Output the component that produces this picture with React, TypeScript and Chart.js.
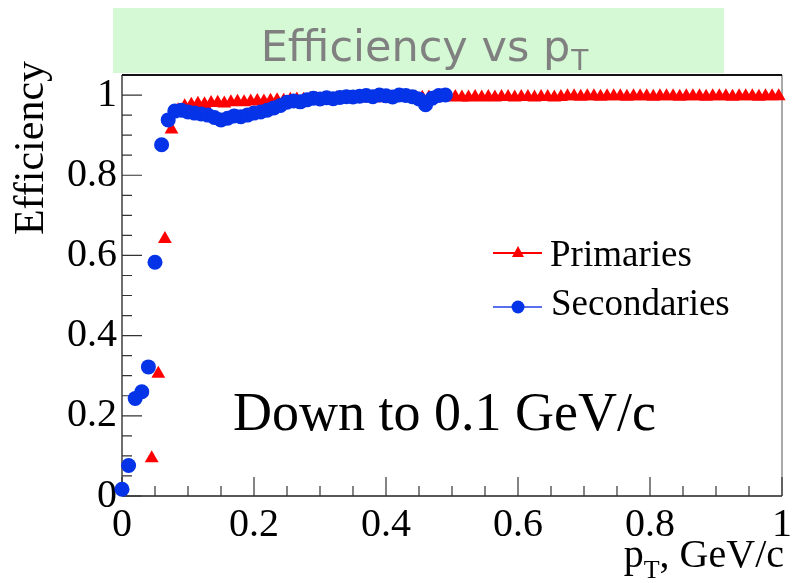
import React, { useEffect, useRef } from 'react';
import { Chart, registerables } from 'chart.js';

Chart.register(...registerables);

// ---------------- data ----------------
const primariesPt = [
  0.045, 0.055, 0.065, 0.075, 0.085, 0.095, 0.105, 0.115, 0.125, 0.135,
  0.145, 0.155, 0.165, 0.175, 0.185, 0.195, 0.205, 0.215, 0.225, 0.235,
  0.245, 0.255, 0.265, 0.275, 0.285, 0.295, 0.305, 0.315, 0.325, 0.335,
  0.345, 0.355, 0.365, 0.375, 0.385, 0.395, 0.405, 0.415, 0.425, 0.435,
  0.445, 0.455, 0.465, 0.475, 0.485, 0.495, 0.505, 0.515, 0.525, 0.535,
  0.545, 0.555, 0.565, 0.575, 0.585, 0.595, 0.605, 0.615, 0.625, 0.635,
  0.645, 0.655, 0.665, 0.675, 0.685, 0.695, 0.705, 0.715, 0.725, 0.735,
  0.745, 0.755, 0.765, 0.775, 0.785, 0.795, 0.805, 0.815, 0.825, 0.835,
  0.845, 0.855, 0.865, 0.875, 0.885, 0.895, 0.905, 0.915, 0.925, 0.935,
  0.945, 0.955, 0.965, 0.975, 0.985, 0.995,
];
const primariesEff = [
  0.094, 0.305, 0.641, 0.914, 0.962, 0.972, 0.976, 0.978, 0.977, 0.980,
  0.981, 0.979, 0.982, 0.983, 0.982, 0.984, 0.985, 0.984, 0.986, 0.987,
  0.986, 0.988, 0.989, 0.988, 0.990, 0.990, 0.991, 0.990, 0.992, 0.991,
  0.992, 0.993, 0.992, 0.993, 0.992, 0.994, 0.993, 0.993, 0.994, 0.993,
  0.994, 0.993, 0.994, 0.994, 0.993, 0.994, 0.995, 0.994, 0.994, 0.995,
  0.994, 0.995, 0.994, 0.995, 0.995, 0.994, 0.995, 0.995, 0.994, 0.995,
  0.995, 0.994, 0.995, 0.997, 0.997, 0.996, 0.997, 0.997, 0.996, 0.997,
  0.997, 0.997, 0.996, 0.997, 0.997, 0.997, 0.996, 0.997, 0.997, 0.997,
  0.996, 0.997, 0.997, 0.997, 0.996, 0.997, 0.997, 0.997, 0.996, 0.997,
  0.997, 0.997, 0.996, 0.997, 0.997, 0.997,
];
const secondariesPt = [
  0.00, 0.01, 0.02, 0.03, 0.04, 0.05, 0.06, 0.07, 0.08, 0.09,
  0.10, 0.11, 0.12, 0.13, 0.14, 0.15, 0.16, 0.17, 0.18, 0.19,
  0.20, 0.21, 0.22, 0.23, 0.24, 0.25, 0.26, 0.27, 0.28, 0.29,
  0.30, 0.31, 0.32, 0.33, 0.34, 0.35, 0.36, 0.37, 0.38, 0.39,
  0.40, 0.41, 0.42, 0.43, 0.44, 0.45, 0.46, 0.47, 0.48, 0.49,
];
const secondariesEff = [
  0.017, 0.076, 0.243, 0.260, 0.322, 0.583, 0.876, 0.938, 0.960, 0.962,
  0.958, 0.955, 0.953, 0.950, 0.944, 0.938, 0.942, 0.948, 0.946, 0.950,
  0.955, 0.958, 0.962, 0.968, 0.974, 0.982, 0.985, 0.983, 0.988, 0.992,
  0.990, 0.993, 0.991, 0.994, 0.996, 0.995, 0.997, 0.999, 0.996, 1.000,
  0.998, 0.995, 1.000, 0.999, 0.996, 0.990, 0.976, 0.992, 0.999, 1.000,
];
const majorTicks = [0, 0.2, 0.4, 0.6, 0.8, 1];
const minorTicks = [
  0.05, 0.1, 0.15, 0.25, 0.3, 0.35, 0.45, 0.5, 0.55, 0.65, 0.7, 0.75, 0.85, 0.9, 0.95,
];
const seriesNames = ['Primaries', 'Secondaries'];
const titleText = 'Efficiency vs p';
const titleSub = 'T';
const yTitle = 'Efficiency';
const xTitleMain = 'p';
const xTitleSub = 'T';
const xTitleRest = ', GeV/c';
const noteText = 'Down to 0.1 GeV/c';

// ---------------- styles ----------------
const RED = '#ff0000';
const BLUE = '#0433e8';
const BLUE_LINE = '#5a6ef0';
const SERIF = '"Liberation Serif", "Times New Roman", serif';
const SANS = '"DejaVu Sans", Verdana, sans-serif';

const decorPlugin = {
  id: 'decor',
  beforeDraw(chart: any) {
    const ctx = chart.ctx as CanvasRenderingContext2D;
    ctx.save();
    ctx.fillStyle = '#ffffff';
    ctx.fillRect(0, 0, chart.width, chart.height);
    // title box
    ctx.fillStyle = '#d4f9d4';
    ctx.fillRect(113, 8, 611, 65);
    ctx.fillStyle = '#808080';
    ctx.textBaseline = 'alphabetic';
    ctx.textAlign = 'left';
    ctx.font = `43px ${SANS}`;
    const w1 = ctx.measureText(titleText).width;
    ctx.font = `28px ${SANS}`;
    const w2 = ctx.measureText(titleSub).width;
    const start = 424 - (w1 + w2) / 2;
    ctx.font = `43px ${SANS}`;
    ctx.fillText(titleText, start, 61);
    ctx.font = `28px ${SANS}`;
    ctx.fillText(titleSub, start + w1 + 1, 70);
    ctx.restore();
  },
  beforeDatasetsDraw(chart: any) {
    const ctx = chart.ctx as CanvasRenderingContext2D;
    const { left, right, top, bottom } = chart.chartArea;
    const xs = chart.scales.x;
    const ys = chart.scales.y;
    ctx.save();
    ctx.strokeStyle = '#222';
    ctx.lineWidth = 1.3;
    ctx.beginPath();
    ctx.moveTo(left, bottom);
    ctx.lineTo(right, bottom);
    ctx.moveTo(left, top);
    ctx.lineTo(left, bottom);
    ctx.stroke();
    ctx.strokeStyle = '#555';
    ctx.lineWidth = 1;
    ctx.beginPath();
    ctx.moveTo(right, top);
    ctx.lineTo(right, bottom);
    ctx.stroke();
    ctx.strokeStyle = '#111';
    ctx.lineWidth = 2;
    ctx.beginPath();
    ctx.moveTo(left, top);
    ctx.lineTo(right, top);
    ctx.stroke();
    // ticks (inward)
    ctx.strokeStyle = '#333';
    ctx.lineWidth = 1.2;
    ctx.beginPath();
    for (const v of majorTicks) {
      const px = xs.getPixelForValue(v);
      ctx.moveTo(px, bottom);
      ctx.lineTo(px, bottom - 19);
      const py = ys.getPixelForValue(v);
      ctx.moveTo(left, py);
      ctx.lineTo(left + 20, py);
    }
    for (const v of minorTicks) {
      const px = xs.getPixelForValue(v);
      ctx.moveTo(px, bottom);
      ctx.lineTo(px, bottom - 10);
      const py = ys.getPixelForValue(v);
      ctx.moveTo(left, py);
      ctx.lineTo(left + 10, py);
    }
    ctx.stroke();
    ctx.restore();
  },
  afterDraw(chart: any) {
    const ctx = chart.ctx as CanvasRenderingContext2D;
    ctx.save();
    ctx.fillStyle = '#000';
    // y title
    ctx.save();
    ctx.translate(43, 148);
    ctx.rotate(-Math.PI / 2);
    ctx.font = `42px ${SERIF}`;
    ctx.textAlign = 'center';
    ctx.textBaseline = 'alphabetic';
    ctx.fillText(yTitle, 0, 0);
    ctx.restore();
    // x title (right aligned)
    ctx.textBaseline = 'alphabetic';
    ctx.textAlign = 'left';
    ctx.font = `40px ${SERIF}`;
    const wp = ctx.measureText(xTitleMain).width;
    const wr = ctx.measureText(xTitleRest).width;
    ctx.font = `26px ${SERIF}`;
    const wt = ctx.measureText(xTitleSub).width;
    const xEnd = 784;
    const x0 = xEnd - wp - wt - wr;
    ctx.font = `40px ${SERIF}`;
    ctx.fillText(xTitleMain, x0, 567);
    ctx.fillText(xTitleRest, x0 + wp + wt, 567);
    ctx.font = `26px ${SERIF}`;
    ctx.fillText(xTitleSub, x0 + wp, 578);
    // annotation
    ctx.font = `54px ${SERIF}`;
    ctx.fillText(noteText, 233, 430);
    // legend
    ctx.font = `37px ${SERIF}`;
    ctx.fillText(seriesNames[0], 550, 266);
    ctx.fillText(seriesNames[1], 551, 315);
    ctx.lineWidth = 2;
    ctx.strokeStyle = RED;
    ctx.beginPath();
    ctx.moveTo(493, 253);
    ctx.lineTo(542, 253);
    ctx.stroke();
    ctx.fillStyle = RED;
    ctx.beginPath();
    ctx.moveTo(518, 246);
    ctx.lineTo(524, 257);
    ctx.lineTo(512, 257);
    ctx.closePath();
    ctx.fill();
    ctx.strokeStyle = BLUE_LINE;
    ctx.beginPath();
    ctx.moveTo(493, 307);
    ctx.lineTo(542, 307);
    ctx.stroke();
    ctx.fillStyle = BLUE;
    ctx.beginPath();
    ctx.arc(518, 307, 6.5, 0, Math.PI * 2);
    ctx.fill();
    ctx.restore();
  },
};

export default function App() {
  const ref = useRef<HTMLCanvasElement>(null);
  useEffect(() => {
    if (!ref.current) return;
    const chart = new Chart(ref.current, {
      type: 'scatter',
      data: {
        datasets: [
          {
            label: seriesNames[0],
            data: primariesPt.map((x, i) => ({ x, y: primariesEff[i] })),
            pointStyle: 'triangle',
            pointRadius: 8,
            backgroundColor: RED,
            borderColor: RED,
            borderWidth: 0,
            showLine: false,
            clip: false,
            order: 2,
          },
          {
            label: seriesNames[1],
            data: secondariesPt.map((x, i) => ({ x, y: secondariesEff[i] })),
            pointStyle: 'circle',
            pointRadius: 7.5,
            backgroundColor: BLUE,
            borderColor: BLUE,
            borderWidth: 0,
            showLine: false,
            clip: false,
            order: 1,
          },
        ],
      },
      options: {
        animation: false,
        responsive: false,
        devicePixelRatio: 1,
        layout: { padding: { left: 0, top: 75, right: 10, bottom: 0 } },
        plugins: {
          legend: { display: false },
          tooltip: { enabled: false },
          title: { display: false },
        },
        scales: {
          x: {
            type: 'linear',
            min: 0,
            max: 1,
            grid: { display: false, drawTicks: false },
            border: { display: false },
            ticks: {
              stepSize: 0.2,
              maxRotation: 0,
              autoSkip: false,
              padding: 5,
              color: '#000',
              font: { family: SERIF, size: 40 },
              callback: (v: any) => String(Math.round(Number(v) * 10) / 10),
            },
            afterFit: (s: any) => {
              s.height = 87;
              s.paddingLeft = 0;
              s.paddingRight = 0;
            },
          },
          y: {
            type: 'linear',
            min: 0,
            max: 1.05,
            grid: { display: false, drawTicks: false },
            border: { display: false },
            ticks: {
              stepSize: 0.2,
              includeBounds: false,
              padding: 5,
              color: '#000',
              font: { family: SERIF, size: 40 },
              callback: (v: any) => {
                const n = Number(v);
                if (Math.abs(n * 5 - Math.round(n * 5)) > 1e-6) return '';
                return String(Math.round(n * 10) / 10);
              },
            },
            afterFit: (s: any) => {
              s.width = 122;
              s.paddingTop = 0;
              s.paddingBottom = 0;
            },
          },
        },
      },
      plugins: [decorPlugin],
    } as any);
    return () => chart.destroy();
  }, []);
  return (
    <div style={{ position: 'absolute', left: 0, top: 0, width: 792, height: 583 }}>
      <canvas ref={ref} width={792} height={583} />
    </div>
  );
}
